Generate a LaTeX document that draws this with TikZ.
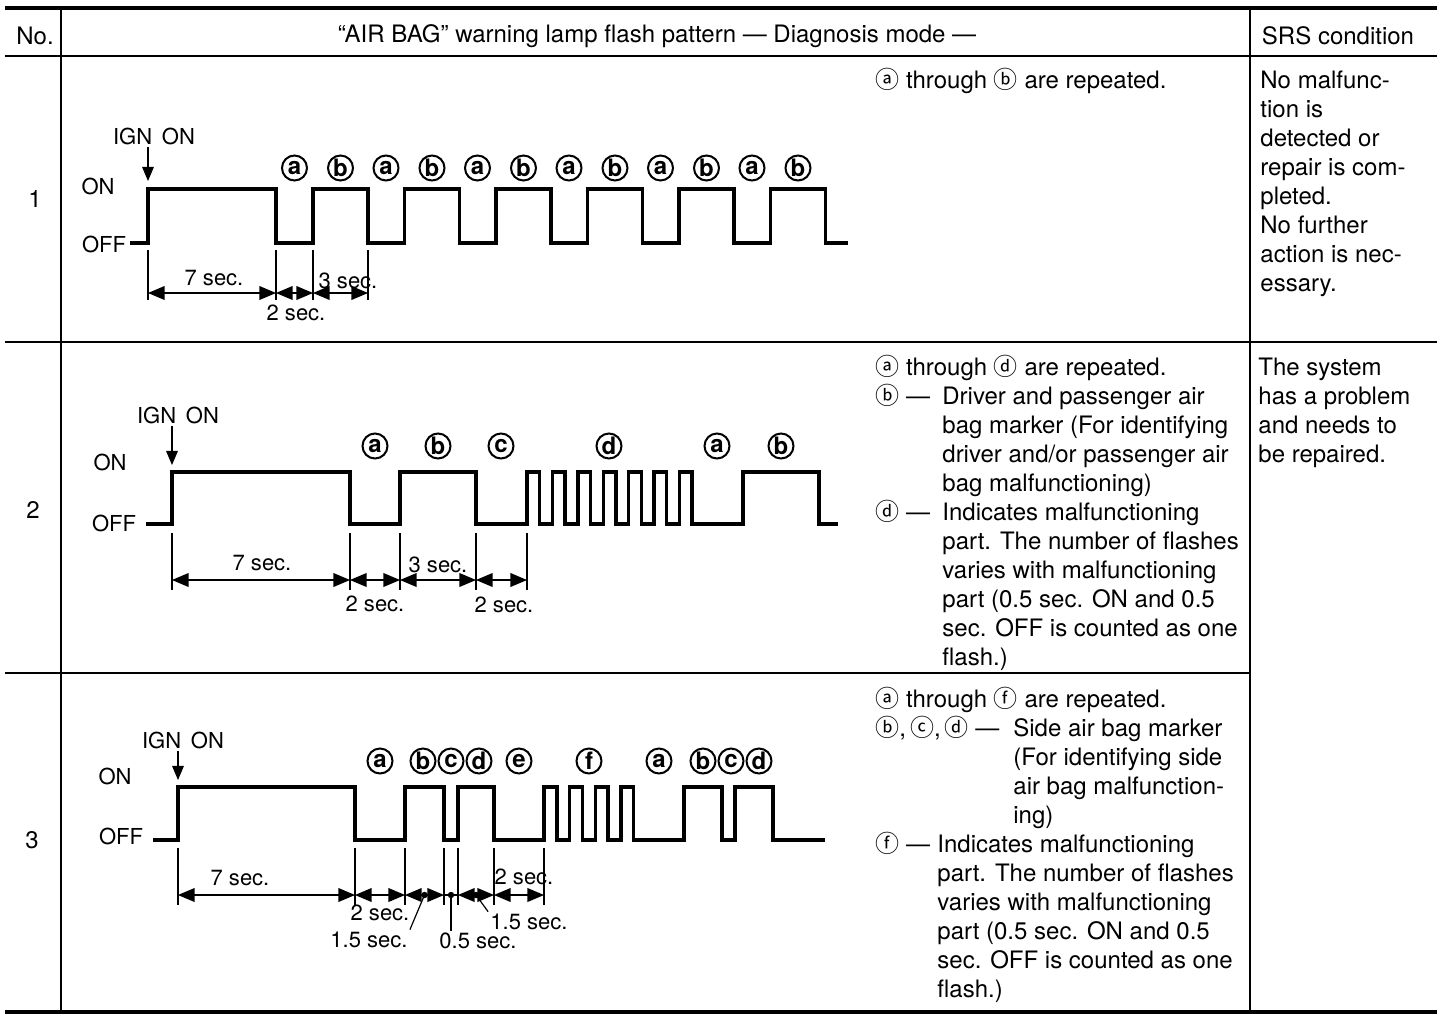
\documentclass[tikz,border=0pt]{standalone}
\usepackage{fontspec}
\setmainfont{TeX Gyre Heros}
\newfontfamily\symfont[Scale=1.0]{Noto Sans CJK JP}
\usepackage{tikz}
\usetikzlibrary{arrows}

\newcommand{\cl}[1]{{\symfont #1}}

\begin{document}
\begin{tikzpicture}[x=0.5pt,y=-0.5pt,
    wave/.style={line width=1.7pt},
    ext/.style={line width=0.6pt},
    dim/.style={line width=0.9pt,triangle 45-triangle 45},
    tip/.style={line width=0.6pt,-triangle 45},
    rule/.style={line width=1pt},
    heavyrule/.style={line width=2.3pt},
    letter/.style={circle,draw,line width=1pt,minimum size=12.5pt,inner sep=0pt,
      font=\bfseries\fontsize{12}{12}\selectfont},
    lbl/.style={inner sep=1pt,font=\fontsize{11}{13}\selectfont},
    hdr/.style={inner sep=1pt,font=\fontsize{12}{14.5}\selectfont},
    txt/.style={inner sep=0pt,anchor=base west,align=left,
      font=\fontsize{12}{14.5}\selectfont}]

  \fill[white] (0,0) rectangle (1440,1024);
  \useasboundingbox (0,0) rectangle (1440,1024);

  % table
  \draw[heavyrule] (5,8) -- (1437,8);
  \draw[rule] (5,56) -- (1437,56);
  \draw[rule] (5,342) -- (1437,342);
  \draw[rule] (5,673) -- (1250,673);
  \draw[heavyrule] (5,1012) -- (1437,1012);
  \draw[rule] (61,8) -- (61,1012);
  \draw[rule] (1250,8) -- (1250,1012);

  \node[hdr] (hno) at (35,36) {No.};
  \node[hdr] (htitle) at (657,36) {“AIR BAG” warning lamp flash pattern — Diagnosis mode —};
  \node[hdr] (hsrs) at (1338,36) {SRS condition};
  \node[hdr] (no1) at (35,199) {1};
  \node[hdr] (no2) at (33,510) {2};
  \node[hdr] (no3) at (32,840) {3};

  % row 1
  \node[lbl] (on1) at (98,186) {ON};
  \node[lbl] (off1) at (104,244) {OFF};
  \node[lbl] (ign1) at (154,136) {IGN\ \,ON};
  \coordinate (ign1tip) at (148,181);
  \draw[tip] (ign1tip |- ign1.south) -- (ign1tip);
  \draw[wave] (130,243) -- (148,243) |- (276,189)
    foreach \k in {0,...,5} { |- ({313+91.5*\k},243) |- ({368+91.5*\k},189) }
    |- (848,243);
  \foreach \k in {0,...,5} {
    \node[letter] (a1\k) at ({294.5+91.5*\k},168) {a};
    \node[letter] (b1\k) at ({340.5+91.5*\k},168) {b};
  }
  \foreach \x [count=\i] in {148,276,313,368} {
    \draw[ext] (\x,250) -- (\x,300);
    \coordinate (t1\i) at (\x,293);
  }
  \draw[dim] (t11) -- (t12);
  \draw[dim] (t12) -- (t13);
  \draw[dim] (t13) -- (t14);
  \node[lbl] (s1a) at (214,278) {7 sec.};
  \node[lbl] (s1b) at (296,313) {2 sec.};
  \node[lbl] (s1c) at (348,281) {3 sec.};

  % row 2
  \node[lbl] (on2) at (110,462) {ON};
  \node[lbl] (off2) at (114,523) {OFF};
  \node[lbl] (ign2) at (178,415) {IGN\ \,ON};
  \coordinate (ign2tip) at (172,465);
  \draw[tip] (ign2tip |- ign2.south) -- (ign2tip);
  \draw[wave] (146,524) -- (172,524) |- (350,472) |- (400,524) |- (476,472) |- (527,524)
    foreach \j in {0,...,5} { |- ({539.7+25.4*\j},472) |- ({552.4+25.4*\j},524) }
    |- (692.1,472) |- (743,524) |- (819,472) |- (838,524);
  \foreach \x/\c [count=\i] in {375/a,438/b,501/c,609/d,717/a,781/b}
    \node[letter] (l2\i) at (\x,446) {\c};
  \foreach \x [count=\i] in {172,350,400,476,527} {
    \draw[ext] (\x,533) -- (\x,590);
    \coordinate (t2\i) at (\x,580);
  }
  \draw[dim] (t21) -- (t22);
  \draw[dim] (t22) -- (t23);
  \draw[dim] (t23) -- (t24);
  \draw[dim] (t24) -- (t25);
  \node[lbl] (s2a) at (262,563) {7 sec.};
  \node[lbl] (s2b) at (375,604) {2 sec.};
  \node[lbl] (s2c) at (438,565) {3 sec.};
  \node[lbl] (s2d) at (504,605) {2 sec.};

  % row 3
  \node[lbl] (on3) at (115,776) {ON};
  \node[lbl] (off3) at (121,836) {OFF};
  \node[lbl] (ign3) at (183,740) {IGN\ \,ON};
  \coordinate (ign3tip) at (178,780);
  \draw[tip] (ign3tip |- ign3.south) -- (ign3tip);
  \draw[wave] (153,840) -- (178,840) |- (355,787) |- (405,840) |- (444,787) |- (458,840)
    |- (494,787) |- (544,840)
    foreach \j in {0,1,2} { |- ({556.8+25.6*\j},787) |- ({569.6+25.6*\j},840) }
    |- (633.6,787) |- (684,840) |- (722,787) |- (735,840) |- (773,787) |- (825,840);
  \foreach \x/\c [count=\i] in {380/a,423/b,451/c,479/d,519/e,589/f,659/a,703/b,731/c,759/d}
    \node[letter] (l3\i) at (\x,761) {\c};
  \foreach \x [count=\i] in {178,355,405,444,458,494,544} {
    \draw[ext] (\x,848) -- (\x,905);
    \coordinate (t3\i) at (\x,895);
  }
  \draw[dim] (t31) -- (t32);
  \draw[dim] (t32) -- (t33);
  \draw[dim] (t33) -- (t34);
  \draw[line width=0.9pt] (t34) -- (t35);
  \draw[dim] (t35) -- (t36);
  \draw[dim] (t36) -- (t37);
  \coordinate (dot1) at (424.5,895);
  \coordinate (dot2) at (451,895);
  \coordinate (dot3) at (476,895);
  \foreach \d in {dot1,dot2,dot3} \fill (\d) circle (1.6pt);
  \node[lbl] (s3a) at (240,878) {7 sec.};
  \node[lbl] (s3b) at (380,913) {2 sec.};
  \node[lbl] (s3c) at (369,940) {1.5 sec.};
  \node[lbl] (s3d) at (478,941) {0.5 sec.};
  \node[lbl] (s3e) at (529,922) {1.5 sec.};
  \node[lbl] (s3f) at (524,877) {2 sec.};
  \draw[ext] (dot1) -- (s3c.north east);
  \draw[ext] (dot2) -- (dot2 |- s3d.north);
  \draw[ext] (dot3) -- (s3e.north west);

  % notes (a multi-line node sits on the baseline of its last line)
  \node[txt] (rep1) at (875,88) {\cl{ⓐ} through \cl{ⓑ} are repeated.};
  \node[txt] (srs1) at (1260,291) {No malfunc-\\tion is\\detected or\\repair is com-\\pleted.\\No further\\action is nec-\\essary.};

  \node[txt] (rep2) at (875,375) {\cl{ⓐ} through \cl{ⓓ} are repeated.};
  \node[txt] (keyb2) at (875,404) {\cl{ⓑ} —};
  \node[txt] (noteb2) at (942,491) {Driver and passenger air\\bag marker (For identifying\\driver and/or passenger air\\bag malfunctioning)};
  \node[txt] (keyd2) at (875,520) {\cl{ⓓ} —};
  \node[txt] (noted2) at (942,665) {Indicates malfunctioning\\part. The number of flashes\\varies with malfunctioning\\part (0.5 sec. ON and 0.5\\sec. OFF is counted as one\\flash.)};
  \node[txt] (srs2) at (1258,462) {The system\\has a problem\\and needs to\\be repaired.};

  \node[txt] (rep3) at (875,707) {\cl{ⓐ} through \cl{ⓕ} are repeated.};
  \node[txt] (keyb3) at (875,736) {\cl{ⓑ},\,\cl{ⓒ},\,\cl{ⓓ} —};
  \node[txt] (noteb3) at (1013,823) {Side air bag marker\\(For identifying side\\air bag malfunction-\\ing)};
  \node[txt] (keyf3) at (875,852) {\cl{ⓕ} —};
  \node[txt] (notef3) at (937,997) {Indicates malfunctioning\\part. The number of flashes\\varies with malfunctioning\\part (0.5 sec. ON and 0.5\\sec. OFF is counted as one\\flash.)};
\end{tikzpicture}
\end{document}
